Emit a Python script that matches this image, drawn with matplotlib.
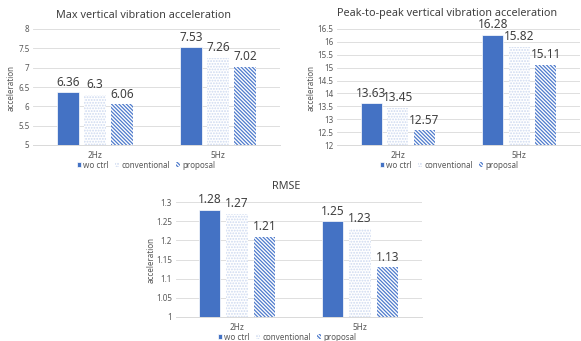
import matplotlib
matplotlib.use("Agg")
import matplotlib.pyplot as plt
from matplotlib.patches import Patch
import numpy as np

plt.rcParams['font.family'] = ['Noto Sans', 'DejaVu Sans']
plt.rcParams['hatch.linewidth'] = 0.9

categories = ["2Hz", "5Hz"]
series = ["wo ctrl", "conventional", "proposal"]

max_acc = {"wo ctrl": [6.36, 7.53], "conventional": [6.3, 7.26], "proposal": [6.06, 7.02]}
p2p_acc = {"wo ctrl": [13.63, 16.28], "conventional": [13.45, 15.82], "proposal": [12.57, 15.11]}
rmse = {"wo ctrl": [1.28, 1.25], "conventional": [1.27, 1.23], "proposal": [1.21, 1.13]}

max_ticks = [5, 5.5, 6, 6.5, 7, 7.5, 8]
p2p_ticks = [12, 12.5, 13, 13.5, 14, 14.5, 15, 15.5, 16, 16.5]
rmse_ticks = [1, 1.05, 1.1, 1.15, 1.2, 1.25, 1.3]

BLUE = "#4472C4"
GRID = "#d9d9d9"
TICK = "#595959"
LABEL = "#404040"

styles = {
    "wo ctrl": dict(facecolor=BLUE, edgecolor="white", hatch=None, linewidth=0.5),
    "conventional": dict(facecolor="white", edgecolor="#cdd9f0", hatch="......", linewidth=0),
    "proposal": dict(facecolor="white", edgecolor="#4f7bcc", hatch="\\" * 9, linewidth=0),
}

W, H = 581, 341
fig = plt.figure(figsize=(W / 100, H / 100), dpi=100)


def px_axes(x0, x1, ytop, ybot):
    return fig.add_axes([x0 / W, 1 - ybot / H, (x1 - x0) / W, (ybot - ytop) / H])


def draw(ax, data, ticks, title, title_xy, ylab_xy, legend_xy, bar_w=0.178, step=0.219):
    x = np.arange(len(categories))
    for i, name in enumerate(series):
        vals = data[name]
        bars = ax.bar(x + (i - 1) * step, vals, width=bar_w, bottom=0, zorder=3,
                      **styles[name])
        for b, v in zip(bars, vals):
            ax.annotate(f"{v:g}", (b.get_x() + b.get_width() / 2, v),
                        xytext=(0, 2.5), textcoords="offset points",
                        ha="center", va="bottom", fontsize=8.5, color=LABEL)
    ax.set_xlim(-0.5, len(categories) - 0.5)
    ax.set_ylim(ticks[0], ticks[-1])
    ax.set_yticks(ticks)
    ax.set_yticklabels([f"{t:g}" for t in ticks])
    ax.set_xticks(x)
    ax.set_xticklabels(categories)
    ax.yaxis.grid(True, color=GRID, linewidth=0.6, zorder=0)
    ax.set_axisbelow(True)
    for s in ("top", "right", "left"):
        ax.spines[s].set_visible(False)
    ax.spines["bottom"].set_color(GRID)
    ax.spines["bottom"].set_linewidth(0.7)
    ax.tick_params(axis="x", length=0, labelsize=6, labelcolor=TICK, pad=4)
    ax.tick_params(axis="y", length=0, labelsize=5.8, labelcolor=TICK, pad=2.5)
    fig.text(title_xy[0] / W, 1 - title_xy[1] / H, title, ha="center", va="center",
             fontsize=7.8, color=LABEL)
    fig.text(ylab_xy[0] / W, 1 - ylab_xy[1] / H, "acceleration", ha="center",
             va="center", rotation=90, fontsize=5.8, color=TICK)
    handles = [Patch(**{k: v for k, v in styles[n].items()}, label=n) for n in series]
    fig.legend(handles=handles, loc="center",
               bbox_to_anchor=(legend_xy[0] / W, 1 - legend_xy[1] / H),
               ncol=3, frameon=False, fontsize=5.8, labelcolor=TICK,
               handlelength=0.5, handleheight=0.5, handletextpad=0.25,
               columnspacing=0.8, borderpad=0.1)


ax1 = px_axes(33, 280, 29, 145)
draw(ax1, max_acc, max_ticks, "Max vertical vibration acceleration",
     (144, 15), (11, 88), (146, 165))

ax2 = px_axes(337, 580, 29, 145)
draw(ax2, p2p_acc, p2p_ticks, "Peak-to-peak vertical vibration acceleration",
     (447, 13.5), (311, 88), (449, 165), bar_w=0.175, step=0.218)

ax3 = px_axes(175.5, 421.5, 202, 317)
draw(ax3, rmse, rmse_ticks, "RMSE",
     (286, 187), (151, 260), (287, 337), bar_w=0.175, step=0.222)

fig.savefig("out.png", dpi=100)
